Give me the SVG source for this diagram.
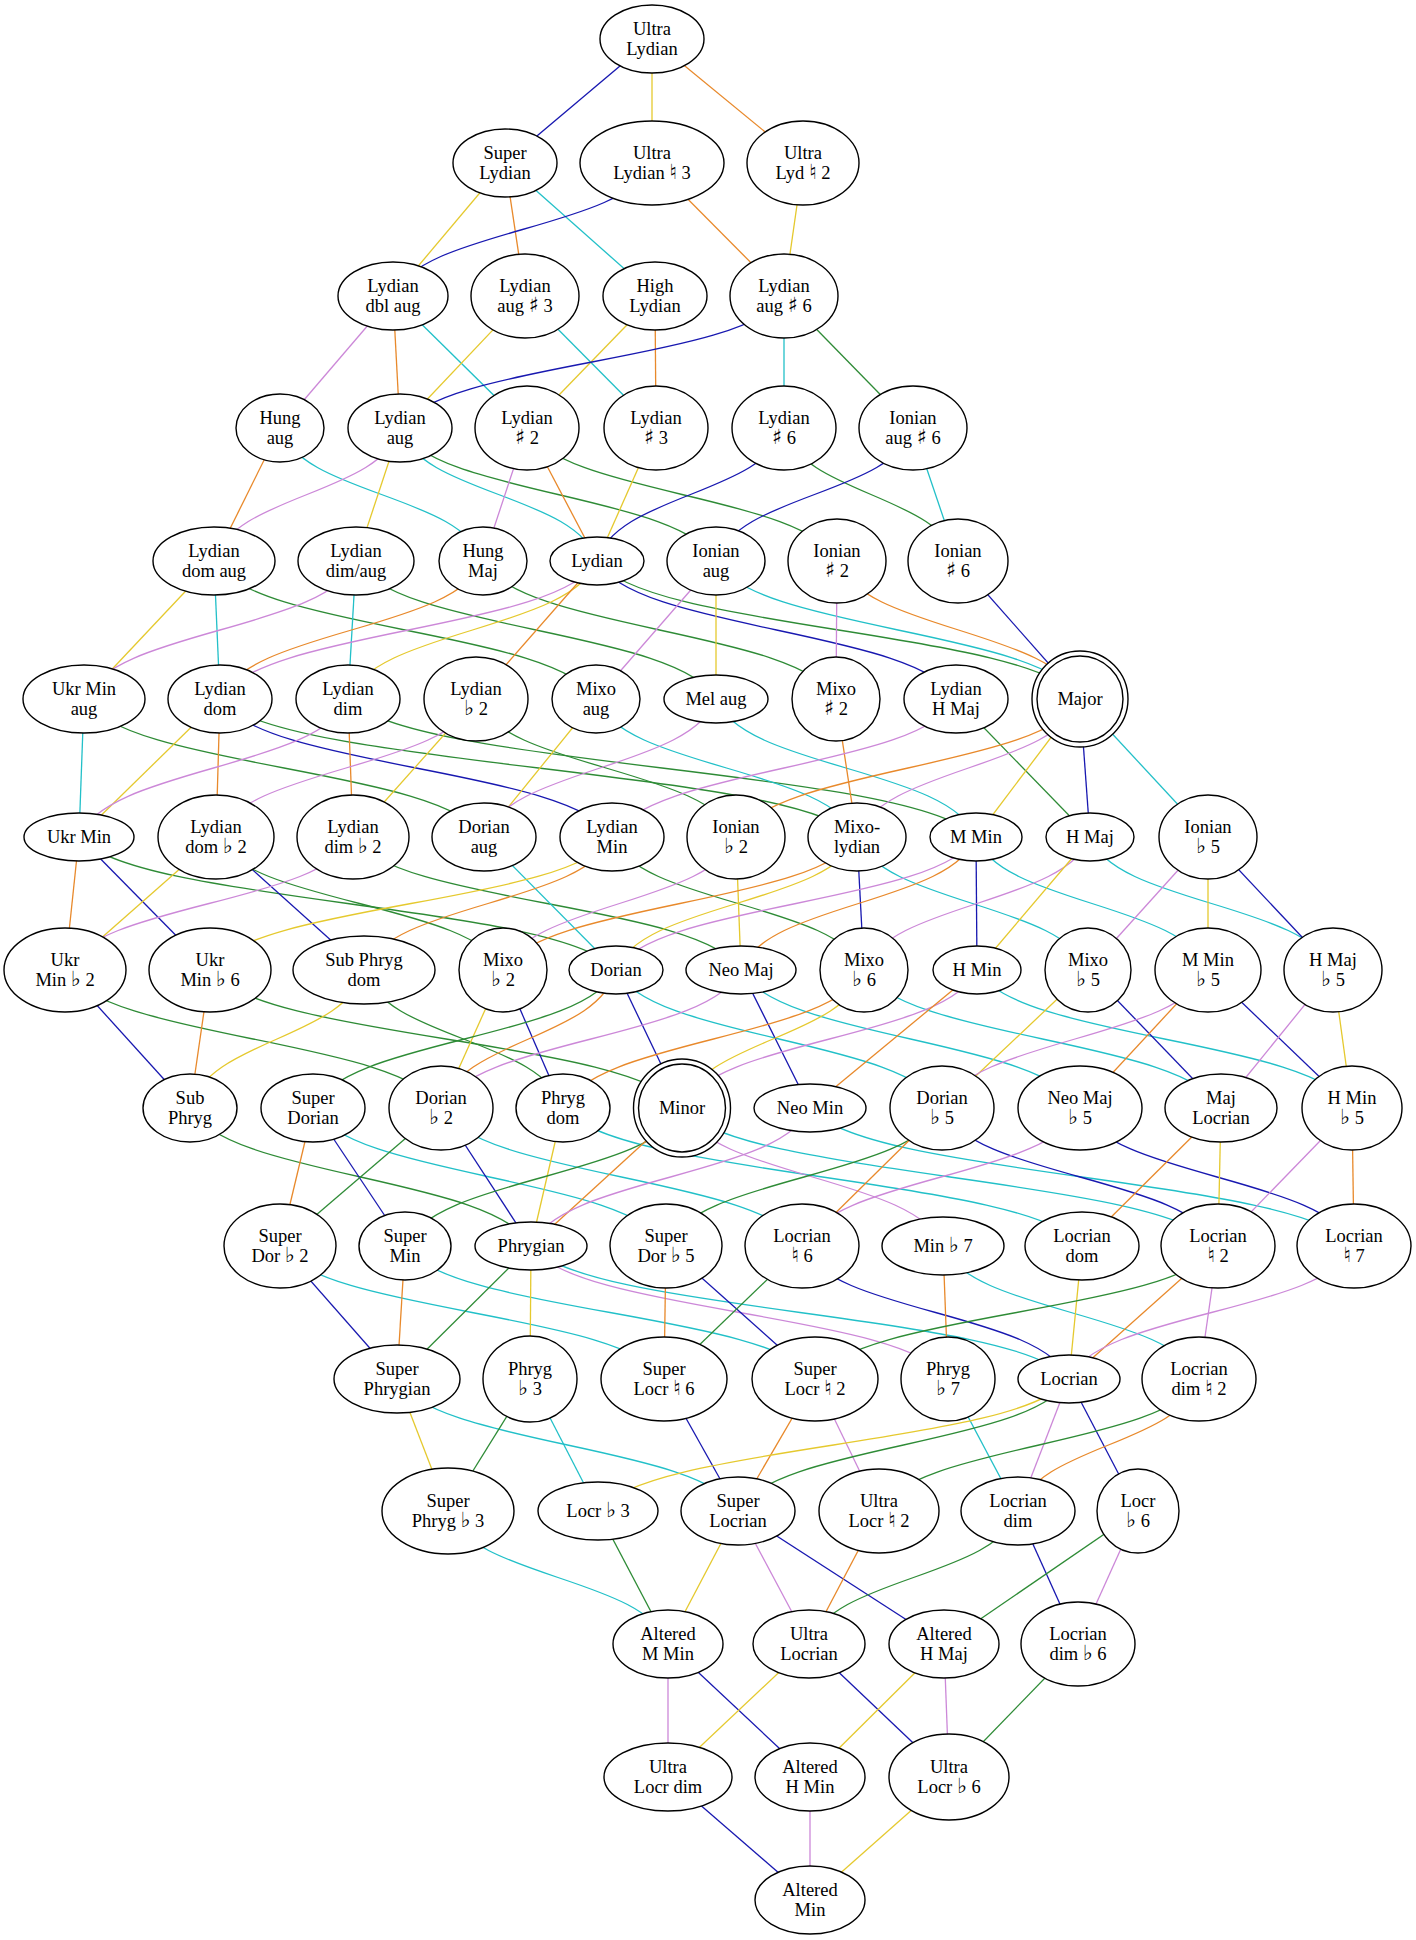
<svg xmlns="http://www.w3.org/2000/svg" width="1416" height="1940" viewBox="0 0 1416 1940">
<style>
.n ellipse{fill:#fff;stroke:#000;stroke-width:1.4}
text{font-family:"Liberation Serif","Times New Roman","DejaVu Serif",serif;font-size:18.5px;text-anchor:middle;fill:#000}
.s{font-family:"DejaVu Sans","DejaVu Serif",sans-serif;font-size:21px}
#edges path{fill:none;stroke-width:1.3}
.c2{stroke:#e8892b}.c3{stroke:#e5c92e}.c4{stroke:#2e8b36}.c5{stroke:#22c0c8}.c6{stroke:#1818b0}.c7{stroke:#cc88d8}
</style>
<rect width="1416" height="1940" fill="#fff"/>
<g id="edges">
<path class="c6" d="M652 39 L505 163"/>
<path class="c3" d="M652 39 L652 163"/>
<path class="c2" d="M652 39 L803 163"/>
<path class="c3" d="M505 163 L393 296"/>
<path class="c2" d="M505 163 L525 296"/>
<path class="c5" d="M505 163 L655 296"/>
<path class="c6" d="M652 163 C626 229.5 419 229.5 393 296"/>
<path class="c2" d="M652 163 L784 296"/>
<path class="c3" d="M803 163 L784 296"/>
<path class="c7" d="M393 296 L280 428"/>
<path class="c2" d="M393 296 L400 428"/>
<path class="c5" d="M393 296 L527 428"/>
<path class="c3" d="M525 296 L400 428"/>
<path class="c5" d="M525 296 L656 428"/>
<path class="c3" d="M655 296 L527 428"/>
<path class="c2" d="M655 296 L656 428"/>
<path class="c6" d="M784 296 C745.6 362 438.4 362 400 428"/>
<path class="c5" d="M784 296 L784 428"/>
<path class="c4" d="M784 296 L913 428"/>
<path class="c2" d="M280 428 L214 561"/>
<path class="c5" d="M280 428 C300.3 494.5 462.7 494.5 483 561"/>
<path class="c7" d="M400 428 C381.4 494.5 232.6 494.5 214 561"/>
<path class="c3" d="M400 428 L356 561"/>
<path class="c5" d="M400 428 C419.7 494.5 577.3 494.5 597 561"/>
<path class="c4" d="M400 428 C431.6 494.5 684.4 494.5 716 561"/>
<path class="c7" d="M527 428 L483 561"/>
<path class="c2" d="M527 428 L597 561"/>
<path class="c4" d="M527 428 C558 494.5 806 494.5 837 561"/>
<path class="c3" d="M656 428 L597 561"/>
<path class="c6" d="M784 428 C765.3 494.5 615.7 494.5 597 561"/>
<path class="c4" d="M784 428 C801.4 494.5 940.6 494.5 958 561"/>
<path class="c6" d="M913 428 C893.3 494.5 735.7 494.5 716 561"/>
<path class="c5" d="M913 428 L958 561"/>
<path class="c3" d="M214 561 L84 699"/>
<path class="c5" d="M214 561 L220 699"/>
<path class="c4" d="M214 561 C252.2 630 557.8 630 596 699"/>
<path class="c7" d="M356 561 C328.8 630 111.2 630 84 699"/>
<path class="c5" d="M356 561 L348 699"/>
<path class="c4" d="M356 561 C392 630 680 630 716 699"/>
<path class="c2" d="M483 561 C456.7 630 246.3 630 220 699"/>
<path class="c4" d="M483 561 C518.3 630 800.7 630 836 699"/>
<path class="c7" d="M597 561 C559.3 630 257.7 630 220 699"/>
<path class="c3" d="M597 561 C572.1 630 372.9 630 348 699"/>
<path class="c2" d="M597 561 L476 699"/>
<path class="c6" d="M597 561 C632.9 630 920.1 630 956 699"/>
<path class="c4" d="M597 561 C645.3 630 1031.7 630 1080 699"/>
<path class="c7" d="M716 561 L596 699"/>
<path class="c3" d="M716 561 L716 699"/>
<path class="c5" d="M716 561 C752.4 630 1043.6 630 1080 699"/>
<path class="c7" d="M837 561 L836 699"/>
<path class="c2" d="M837 561 C861.3 630 1055.7 630 1080 699"/>
<path class="c6" d="M958 561 L1080 699"/>
<path class="c5" d="M84 699 L79 837"/>
<path class="c4" d="M84 699 C124 768 444 768 484 837"/>
<path class="c3" d="M220 699 L79 837"/>
<path class="c2" d="M220 699 L216 837"/>
<path class="c6" d="M220 699 C259.2 768 572.8 768 612 837"/>
<path class="c4" d="M220 699 C283.7 768 793.3 768 857 837"/>
<path class="c7" d="M348 699 C321.1 768 105.9 768 79 837"/>
<path class="c2" d="M348 699 L353 837"/>
<path class="c4" d="M348 699 C410.8 768 913.2 768 976 837"/>
<path class="c7" d="M476 699 C450 768 242 768 216 837"/>
<path class="c3" d="M476 699 L353 837"/>
<path class="c4" d="M476 699 C502 768 710 768 736 837"/>
<path class="c3" d="M596 699 L484 837"/>
<path class="c5" d="M596 699 C622.1 768 830.9 768 857 837"/>
<path class="c7" d="M716 699 C692.8 768 507.2 768 484 837"/>
<path class="c5" d="M716 699 C742 768 950 768 976 837"/>
<path class="c2" d="M836 699 L857 837"/>
<path class="c7" d="M956 699 C921.6 768 646.4 768 612 837"/>
<path class="c4" d="M956 699 L1090 837"/>
<path class="c2" d="M1080 699 C1045.6 768 770.4 768 736 837"/>
<path class="c7" d="M1080 699 C1057.7 768 879.3 768 857 837"/>
<path class="c3" d="M1080 699 L976 837"/>
<path class="c6" d="M1080 699 L1090 837"/>
<path class="c5" d="M1080 699 L1208 837"/>
<path class="c2" d="M79 837 L65 970"/>
<path class="c6" d="M79 837 L210 970"/>
<path class="c4" d="M79 837 C132.7 903.5 562.3 903.5 616 970"/>
<path class="c3" d="M216 837 L65 970"/>
<path class="c6" d="M216 837 L364 970"/>
<path class="c4" d="M216 837 C244.7 903.5 474.3 903.5 503 970"/>
<path class="c7" d="M353 837 C324.2 903.5 93.8 903.5 65 970"/>
<path class="c4" d="M353 837 C391.8 903.5 702.2 903.5 741 970"/>
<path class="c5" d="M484 837 L616 970"/>
<path class="c3" d="M612 837 C571.8 903.5 250.2 903.5 210 970"/>
<path class="c2" d="M612 837 C587.2 903.5 388.8 903.5 364 970"/>
<path class="c4" d="M612 837 C637.2 903.5 838.8 903.5 864 970"/>
<path class="c7" d="M736 837 C712.7 903.5 526.3 903.5 503 970"/>
<path class="c3" d="M736 837 L741 970"/>
<path class="c2" d="M857 837 C821.6 903.5 538.4 903.5 503 970"/>
<path class="c3" d="M857 837 C832.9 903.5 640.1 903.5 616 970"/>
<path class="c6" d="M857 837 L864 970"/>
<path class="c5" d="M857 837 C880.1 903.5 1064.9 903.5 1088 970"/>
<path class="c7" d="M976 837 C940 903.5 652 903.5 616 970"/>
<path class="c2" d="M976 837 C952.5 903.5 764.5 903.5 741 970"/>
<path class="c6" d="M976 837 L977 970"/>
<path class="c5" d="M976 837 C999.2 903.5 1184.8 903.5 1208 970"/>
<path class="c7" d="M1090 837 C1067.4 903.5 886.6 903.5 864 970"/>
<path class="c3" d="M1090 837 L977 970"/>
<path class="c5" d="M1090 837 C1114.3 903.5 1308.7 903.5 1333 970"/>
<path class="c7" d="M1208 837 L1088 970"/>
<path class="c3" d="M1208 837 L1208 970"/>
<path class="c6" d="M1208 837 L1333 970"/>
<path class="c6" d="M65 970 L190 1108"/>
<path class="c4" d="M65 970 C102.6 1039 403.4 1039 441 1108"/>
<path class="c2" d="M210 970 L190 1108"/>
<path class="c4" d="M210 970 C257.2 1039 634.8 1039 682 1108"/>
<path class="c3" d="M364 970 C346.6 1039 207.4 1039 190 1108"/>
<path class="c4" d="M364 970 C383.9 1039 543.1 1039 563 1108"/>
<path class="c3" d="M503 970 L441 1108"/>
<path class="c6" d="M503 970 L563 1108"/>
<path class="c4" d="M616 970 C585.7 1039 343.3 1039 313 1108"/>
<path class="c2" d="M616 970 C598.5 1039 458.5 1039 441 1108"/>
<path class="c6" d="M616 970 L682 1108"/>
<path class="c5" d="M616 970 C648.6 1039 909.4 1039 942 1108"/>
<path class="c7" d="M741 970 C711 1039 471 1039 441 1108"/>
<path class="c6" d="M741 970 L810 1108"/>
<path class="c5" d="M741 970 C774.9 1039 1046.1 1039 1080 1108"/>
<path class="c2" d="M864 970 C833.9 1039 593.1 1039 563 1108"/>
<path class="c3" d="M864 970 C845.8 1039 700.2 1039 682 1108"/>
<path class="c5" d="M864 970 C899.7 1039 1185.3 1039 1221 1108"/>
<path class="c7" d="M977 970 C947.5 1039 711.5 1039 682 1108"/>
<path class="c2" d="M977 970 L810 1108"/>
<path class="c5" d="M977 970 C1014.5 1039 1314.5 1039 1352 1108"/>
<path class="c3" d="M1088 970 L942 1108"/>
<path class="c6" d="M1088 970 L1221 1108"/>
<path class="c7" d="M1208 970 C1181.4 1039 968.6 1039 942 1108"/>
<path class="c2" d="M1208 970 L1080 1108"/>
<path class="c6" d="M1208 970 L1352 1108"/>
<path class="c7" d="M1333 970 L1221 1108"/>
<path class="c3" d="M1333 970 L1352 1108"/>
<path class="c4" d="M190 1108 C224.1 1177 496.9 1177 531 1246"/>
<path class="c2" d="M313 1108 L280 1246"/>
<path class="c6" d="M313 1108 L405 1246"/>
<path class="c5" d="M313 1108 C348.3 1177 630.7 1177 666 1246"/>
<path class="c4" d="M441 1108 L280 1246"/>
<path class="c6" d="M441 1108 L531 1246"/>
<path class="c5" d="M441 1108 C477.1 1177 765.9 1177 802 1246"/>
<path class="c3" d="M563 1108 L531 1246"/>
<path class="c5" d="M563 1108 C614.9 1177 1030.1 1177 1082 1246"/>
<path class="c4" d="M682 1108 C654.3 1177 432.7 1177 405 1246"/>
<path class="c2" d="M682 1108 L531 1246"/>
<path class="c7" d="M682 1108 C708.1 1177 916.9 1177 943 1246"/>
<path class="c5" d="M682 1108 C735.6 1177 1164.4 1177 1218 1246"/>
<path class="c7" d="M810 1108 C782.1 1177 558.9 1177 531 1246"/>
<path class="c5" d="M810 1108 C864.4 1177 1299.6 1177 1354 1246"/>
<path class="c4" d="M942 1108 C914.4 1177 693.6 1177 666 1246"/>
<path class="c2" d="M942 1108 L802 1246"/>
<path class="c6" d="M942 1108 C969.6 1177 1190.4 1177 1218 1246"/>
<path class="c7" d="M1080 1108 C1052.2 1177 829.8 1177 802 1246"/>
<path class="c6" d="M1080 1108 C1107.4 1177 1326.6 1177 1354 1246"/>
<path class="c2" d="M1221 1108 L1082 1246"/>
<path class="c3" d="M1221 1108 L1218 1246"/>
<path class="c7" d="M1352 1108 L1218 1246"/>
<path class="c2" d="M1352 1108 L1354 1246"/>
<path class="c6" d="M280 1246 L397 1379"/>
<path class="c5" d="M280 1246 C318.4 1312.5 625.6 1312.5 664 1379"/>
<path class="c2" d="M405 1246 L397 1379"/>
<path class="c5" d="M405 1246 C446 1312.5 774 1312.5 815 1379"/>
<path class="c4" d="M531 1246 L397 1379"/>
<path class="c3" d="M531 1246 L530 1379"/>
<path class="c7" d="M531 1246 C572.7 1312.5 906.3 1312.5 948 1379"/>
<path class="c5" d="M531 1246 C584.8 1312.5 1015.2 1312.5 1069 1379"/>
<path class="c2" d="M666 1246 L664 1379"/>
<path class="c6" d="M666 1246 L815 1379"/>
<path class="c4" d="M802 1246 L664 1379"/>
<path class="c6" d="M802 1246 C828.7 1312.5 1042.3 1312.5 1069 1379"/>
<path class="c2" d="M943 1246 L948 1379"/>
<path class="c5" d="M943 1246 C968.6 1312.5 1173.4 1312.5 1199 1379"/>
<path class="c3" d="M1082 1246 L1069 1379"/>
<path class="c4" d="M1218 1246 C1177.7 1312.5 855.3 1312.5 815 1379"/>
<path class="c2" d="M1218 1246 L1069 1379"/>
<path class="c7" d="M1218 1246 L1199 1379"/>
<path class="c7" d="M1354 1246 C1325.5 1312.5 1097.5 1312.5 1069 1379"/>
<path class="c3" d="M397 1379 L448 1511"/>
<path class="c5" d="M397 1379 C431.1 1445 703.9 1445 738 1511"/>
<path class="c4" d="M530 1379 L448 1511"/>
<path class="c5" d="M530 1379 L598 1511"/>
<path class="c6" d="M664 1379 L738 1511"/>
<path class="c2" d="M815 1379 L738 1511"/>
<path class="c7" d="M815 1379 L879 1511"/>
<path class="c5" d="M948 1379 L1018 1511"/>
<path class="c3" d="M1069 1379 C1021.9 1445 645.1 1445 598 1511"/>
<path class="c4" d="M1069 1379 C1035.9 1445 771.1 1445 738 1511"/>
<path class="c7" d="M1069 1379 L1018 1511"/>
<path class="c6" d="M1069 1379 L1138 1511"/>
<path class="c4" d="M1199 1379 C1167 1445 911 1445 879 1511"/>
<path class="c2" d="M1199 1379 C1180.9 1445 1036.1 1445 1018 1511"/>
<path class="c5" d="M448 1511 C470 1577.5 646 1577.5 668 1644"/>
<path class="c4" d="M598 1511 L668 1644"/>
<path class="c3" d="M738 1511 L668 1644"/>
<path class="c7" d="M738 1511 L809 1644"/>
<path class="c6" d="M738 1511 L944 1644"/>
<path class="c2" d="M879 1511 L809 1644"/>
<path class="c4" d="M1018 1511 C997.1 1577.5 829.9 1577.5 809 1644"/>
<path class="c6" d="M1018 1511 L1078 1644"/>
<path class="c4" d="M1138 1511 L944 1644"/>
<path class="c7" d="M1138 1511 L1078 1644"/>
<path class="c7" d="M668 1644 L668 1777"/>
<path class="c6" d="M668 1644 L810 1777"/>
<path class="c3" d="M809 1644 L668 1777"/>
<path class="c6" d="M809 1644 L949 1777"/>
<path class="c3" d="M944 1644 L810 1777"/>
<path class="c7" d="M944 1644 L949 1777"/>
<path class="c4" d="M1078 1644 L949 1777"/>
<path class="c6" d="M668 1777 L810 1900"/>
<path class="c7" d="M810 1777 L810 1900"/>
<path class="c3" d="M949 1777 L810 1900"/>
</g>
<g id="UL" class="n"><ellipse cx="652" cy="39" rx="52" ry="34"/><text x="652" y="35"><tspan x="652">Ultra</tspan><tspan x="652" dy="19.5">Lydian</tspan></text></g>
<g id="SL" class="n"><ellipse cx="505" cy="163" rx="52" ry="34"/><text x="505" y="159"><tspan x="505">Super</tspan><tspan x="505" dy="19.5">Lydian</tspan></text></g>
<g id="UL3" class="n"><ellipse cx="652" cy="163" rx="72" ry="42"/><text x="652" y="159"><tspan x="652">Ultra</tspan><tspan x="652" dy="19.5">Lydian <tspan class="s">♮</tspan> 3</tspan></text></g>
<g id="UL2" class="n"><ellipse cx="803" cy="163" rx="56" ry="42"/><text x="803" y="159"><tspan x="803">Ultra</tspan><tspan x="803" dy="19.5">Lyd <tspan class="s">♮</tspan> 2</tspan></text></g>
<g id="LDA" class="n"><ellipse cx="393" cy="296" rx="55" ry="34"/><text x="393" y="292"><tspan x="393">Lydian</tspan><tspan x="393" dy="19.5">dbl aug</tspan></text></g>
<g id="LA3" class="n"><ellipse cx="525" cy="296" rx="54" ry="42"/><text x="525" y="292"><tspan x="525">Lydian</tspan><tspan x="525" dy="19.5">aug <tspan class="s">♯</tspan> 3</tspan></text></g>
<g id="HL" class="n"><ellipse cx="655" cy="296" rx="52" ry="34"/><text x="655" y="292"><tspan x="655">High</tspan><tspan x="655" dy="19.5">Lydian</tspan></text></g>
<g id="LA6" class="n"><ellipse cx="784" cy="296" rx="54" ry="42"/><text x="784" y="292"><tspan x="784">Lydian</tspan><tspan x="784" dy="19.5">aug <tspan class="s">♯</tspan> 6</tspan></text></g>
<g id="HA" class="n"><ellipse cx="280" cy="428" rx="44" ry="34"/><text x="280" y="424"><tspan x="280">Hung</tspan><tspan x="280" dy="19.5">aug</tspan></text></g>
<g id="LAug" class="n"><ellipse cx="400" cy="428" rx="52" ry="34"/><text x="400" y="424"><tspan x="400">Lydian</tspan><tspan x="400" dy="19.5">aug</tspan></text></g>
<g id="L2" class="n"><ellipse cx="527" cy="428" rx="52" ry="42"/><text x="527" y="424"><tspan x="527">Lydian</tspan><tspan x="527" dy="19.5"><tspan class="s">♯</tspan> 2</tspan></text></g>
<g id="L3" class="n"><ellipse cx="656" cy="428" rx="52" ry="42"/><text x="656" y="424"><tspan x="656">Lydian</tspan><tspan x="656" dy="19.5"><tspan class="s">♯</tspan> 3</tspan></text></g>
<g id="L6" class="n"><ellipse cx="784" cy="428" rx="52" ry="42"/><text x="784" y="424"><tspan x="784">Lydian</tspan><tspan x="784" dy="19.5"><tspan class="s">♯</tspan> 6</tspan></text></g>
<g id="IA6" class="n"><ellipse cx="913" cy="428" rx="54" ry="42"/><text x="913" y="424"><tspan x="913">Ionian</tspan><tspan x="913" dy="19.5">aug <tspan class="s">♯</tspan> 6</tspan></text></g>
<g id="LDAug" class="n"><ellipse cx="214" cy="561" rx="61" ry="34"/><text x="214" y="557"><tspan x="214">Lydian</tspan><tspan x="214" dy="19.5">dom aug</tspan></text></g>
<g id="LDimAug" class="n"><ellipse cx="356" cy="561" rx="58" ry="34"/><text x="356" y="557"><tspan x="356">Lydian</tspan><tspan x="356" dy="19.5">dim/aug</tspan></text></g>
<g id="HM" class="n"><ellipse cx="483" cy="561" rx="44" ry="34"/><text x="483" y="557"><tspan x="483">Hung</tspan><tspan x="483" dy="19.5">Maj</tspan></text></g>
<g id="Lyd" class="n"><ellipse cx="597" cy="561" rx="47" ry="24"/><text x="597" y="567">Lydian</text></g>
<g id="IAug" class="n"><ellipse cx="716" cy="561" rx="49" ry="34"/><text x="716" y="557"><tspan x="716">Ionian</tspan><tspan x="716" dy="19.5">aug</tspan></text></g>
<g id="I2" class="n"><ellipse cx="837" cy="561" rx="49" ry="42"/><text x="837" y="557"><tspan x="837">Ionian</tspan><tspan x="837" dy="19.5"><tspan class="s">♯</tspan> 2</tspan></text></g>
<g id="I6" class="n"><ellipse cx="958" cy="561" rx="50" ry="42"/><text x="958" y="557"><tspan x="958">Ionian</tspan><tspan x="958" dy="19.5"><tspan class="s">♯</tspan> 6</tspan></text></g>
<g id="UMA" class="n"><ellipse cx="84" cy="699" rx="61" ry="34"/><text x="84" y="695"><tspan x="84">Ukr Min</tspan><tspan x="84" dy="19.5">aug</tspan></text></g>
<g id="LD" class="n"><ellipse cx="220" cy="699" rx="52" ry="34"/><text x="220" y="695"><tspan x="220">Lydian</tspan><tspan x="220" dy="19.5">dom</tspan></text></g>
<g id="LDim" class="n"><ellipse cx="348" cy="699" rx="52" ry="34"/><text x="348" y="695"><tspan x="348">Lydian</tspan><tspan x="348" dy="19.5">dim</tspan></text></g>
<g id="LF2" class="n"><ellipse cx="476" cy="699" rx="52" ry="42"/><text x="476" y="695"><tspan x="476">Lydian</tspan><tspan x="476" dy="19.5"><tspan class="s">♭</tspan> 2</tspan></text></g>
<g id="MA" class="n"><ellipse cx="596" cy="699" rx="44" ry="34"/><text x="596" y="695"><tspan x="596">Mixo</tspan><tspan x="596" dy="19.5">aug</tspan></text></g>
<g id="MelA" class="n"><ellipse cx="716" cy="699" rx="52" ry="24"/><text x="716" y="705">Mel aug</text></g>
<g id="M2" class="n"><ellipse cx="836" cy="699" rx="44" ry="42"/><text x="836" y="695"><tspan x="836">Mixo</tspan><tspan x="836" dy="19.5"><tspan class="s">♯</tspan> 2</tspan></text></g>
<g id="LHM" class="n"><ellipse cx="956" cy="699" rx="52" ry="34"/><text x="956" y="695"><tspan x="956">Lydian</tspan><tspan x="956" dy="19.5">H Maj</tspan></text></g>
<g id="Maj" class="n"><ellipse cx="1080" cy="699" rx="48" ry="48"/><ellipse cx="1080" cy="699" rx="43" ry="43"/><text x="1080" y="705">Major</text></g>
<g id="UM" class="n"><ellipse cx="79" cy="837" rx="55" ry="24"/><text x="79" y="843">Ukr Min</text></g>
<g id="LDF2" class="n"><ellipse cx="216" cy="837" rx="58" ry="42"/><text x="216" y="833"><tspan x="216">Lydian</tspan><tspan x="216" dy="19.5">dom <tspan class="s">♭</tspan> 2</tspan></text></g>
<g id="LDimF2" class="n"><ellipse cx="353" cy="837" rx="56" ry="42"/><text x="353" y="833"><tspan x="353">Lydian</tspan><tspan x="353" dy="19.5">dim <tspan class="s">♭</tspan> 2</tspan></text></g>
<g id="DA" class="n"><ellipse cx="484" cy="837" rx="52" ry="34"/><text x="484" y="833"><tspan x="484">Dorian</tspan><tspan x="484" dy="19.5">aug</tspan></text></g>
<g id="LMin" class="n"><ellipse cx="612" cy="837" rx="52" ry="34"/><text x="612" y="833"><tspan x="612">Lydian</tspan><tspan x="612" dy="19.5">Min</tspan></text></g>
<g id="IF2" class="n"><ellipse cx="736" cy="837" rx="49" ry="42"/><text x="736" y="833"><tspan x="736">Ionian</tspan><tspan x="736" dy="19.5"><tspan class="s">♭</tspan> 2</tspan></text></g>
<g id="Mixo" class="n"><ellipse cx="857" cy="837" rx="49" ry="34"/><text x="857" y="833"><tspan x="857">Mixo-</tspan><tspan x="857" dy="19.5">lydian</tspan></text></g>
<g id="MMin" class="n"><ellipse cx="976" cy="837" rx="46" ry="24"/><text x="976" y="843">M Min</text></g>
<g id="HMaj" class="n"><ellipse cx="1090" cy="837" rx="44" ry="24"/><text x="1090" y="843">H Maj</text></g>
<g id="IF5" class="n"><ellipse cx="1208" cy="837" rx="49" ry="42"/><text x="1208" y="833"><tspan x="1208">Ionian</tspan><tspan x="1208" dy="19.5"><tspan class="s">♭</tspan> 5</tspan></text></g>
<g id="UMF2" class="n"><ellipse cx="65" cy="970" rx="61" ry="42"/><text x="65" y="966"><tspan x="65">Ukr</tspan><tspan x="65" dy="19.5">Min <tspan class="s">♭</tspan> 2</tspan></text></g>
<g id="UMF6" class="n"><ellipse cx="210" cy="970" rx="61" ry="42"/><text x="210" y="966"><tspan x="210">Ukr</tspan><tspan x="210" dy="19.5">Min <tspan class="s">♭</tspan> 6</tspan></text></g>
<g id="SPD" class="n"><ellipse cx="364" cy="970" rx="71" ry="34"/><text x="364" y="966"><tspan x="364">Sub Phryg</tspan><tspan x="364" dy="19.5">dom</tspan></text></g>
<g id="MxF2" class="n"><ellipse cx="503" cy="970" rx="44" ry="42"/><text x="503" y="966"><tspan x="503">Mixo</tspan><tspan x="503" dy="19.5"><tspan class="s">♭</tspan> 2</tspan></text></g>
<g id="Dor" class="n"><ellipse cx="616" cy="970" rx="47" ry="24"/><text x="616" y="976">Dorian</text></g>
<g id="NMaj" class="n"><ellipse cx="741" cy="970" rx="55" ry="24"/><text x="741" y="976">Neo Maj</text></g>
<g id="MxF6" class="n"><ellipse cx="864" cy="970" rx="44" ry="42"/><text x="864" y="966"><tspan x="864">Mixo</tspan><tspan x="864" dy="19.5"><tspan class="s">♭</tspan> 6</tspan></text></g>
<g id="HMin" class="n"><ellipse cx="977" cy="970" rx="44" ry="24"/><text x="977" y="976">H Min</text></g>
<g id="MxF5" class="n"><ellipse cx="1088" cy="970" rx="43" ry="42"/><text x="1088" y="966"><tspan x="1088">Mixo</tspan><tspan x="1088" dy="19.5"><tspan class="s">♭</tspan> 5</tspan></text></g>
<g id="MMinF5" class="n"><ellipse cx="1208" cy="970" rx="53" ry="42"/><text x="1208" y="966"><tspan x="1208">M Min</tspan><tspan x="1208" dy="19.5"><tspan class="s">♭</tspan> 5</tspan></text></g>
<g id="HMajF5" class="n"><ellipse cx="1333" cy="970" rx="49" ry="42"/><text x="1333" y="966"><tspan x="1333">H Maj</tspan><tspan x="1333" dy="19.5"><tspan class="s">♭</tspan> 5</tspan></text></g>
<g id="SP" class="n"><ellipse cx="190" cy="1108" rx="47" ry="34"/><text x="190" y="1104"><tspan x="190">Sub</tspan><tspan x="190" dy="19.5">Phryg</tspan></text></g>
<g id="SD" class="n"><ellipse cx="313" cy="1108" rx="52" ry="34"/><text x="313" y="1104"><tspan x="313">Super</tspan><tspan x="313" dy="19.5">Dorian</tspan></text></g>
<g id="DF2" class="n"><ellipse cx="441" cy="1108" rx="52" ry="42"/><text x="441" y="1104"><tspan x="441">Dorian</tspan><tspan x="441" dy="19.5"><tspan class="s">♭</tspan> 2</tspan></text></g>
<g id="PD" class="n"><ellipse cx="563" cy="1108" rx="47" ry="34"/><text x="563" y="1104"><tspan x="563">Phryg</tspan><tspan x="563" dy="19.5">dom</tspan></text></g>
<g id="Min" class="n"><ellipse cx="682" cy="1108" rx="48.5" ry="49"/><ellipse cx="682" cy="1108" rx="43.5" ry="44"/><text x="682" y="1114">Minor</text></g>
<g id="NMin" class="n"><ellipse cx="810" cy="1108" rx="56" ry="24"/><text x="810" y="1114">Neo Min</text></g>
<g id="DF5" class="n"><ellipse cx="942" cy="1108" rx="52" ry="42"/><text x="942" y="1104"><tspan x="942">Dorian</tspan><tspan x="942" dy="19.5"><tspan class="s">♭</tspan> 5</tspan></text></g>
<g id="NMajF5" class="n"><ellipse cx="1080" cy="1108" rx="62" ry="42"/><text x="1080" y="1104"><tspan x="1080">Neo Maj</tspan><tspan x="1080" dy="19.5"><tspan class="s">♭</tspan> 5</tspan></text></g>
<g id="MajLoc" class="n"><ellipse cx="1221" cy="1108" rx="56" ry="34"/><text x="1221" y="1104"><tspan x="1221">Maj</tspan><tspan x="1221" dy="19.5">Locrian</tspan></text></g>
<g id="HMinF5" class="n"><ellipse cx="1352" cy="1108" rx="50" ry="42"/><text x="1352" y="1104"><tspan x="1352">H Min</tspan><tspan x="1352" dy="19.5"><tspan class="s">♭</tspan> 5</tspan></text></g>
<g id="SDF2" class="n"><ellipse cx="280" cy="1246" rx="56" ry="42"/><text x="280" y="1242"><tspan x="280">Super</tspan><tspan x="280" dy="19.5">Dor <tspan class="s">♭</tspan> 2</tspan></text></g>
<g id="SMin" class="n"><ellipse cx="405" cy="1246" rx="46" ry="34"/><text x="405" y="1242"><tspan x="405">Super</tspan><tspan x="405" dy="19.5">Min</tspan></text></g>
<g id="Phr" class="n"><ellipse cx="531" cy="1246" rx="56" ry="24"/><text x="531" y="1252">Phrygian</text></g>
<g id="SDF5" class="n"><ellipse cx="666" cy="1246" rx="56" ry="42"/><text x="666" y="1242"><tspan x="666">Super</tspan><tspan x="666" dy="19.5">Dor <tspan class="s">♭</tspan> 5</tspan></text></g>
<g id="LN6" class="n"><ellipse cx="802" cy="1246" rx="57" ry="42"/><text x="802" y="1242"><tspan x="802">Locrian</tspan><tspan x="802" dy="19.5"><tspan class="s">♮</tspan> 6</tspan></text></g>
<g id="MinF7" class="n"><ellipse cx="943" cy="1246" rx="61" ry="29"/><text x="943" y="1252">Min <tspan class="s">♭</tspan> 7</text></g>
<g id="LDom" class="n"><ellipse cx="1082" cy="1246" rx="57" ry="34"/><text x="1082" y="1242"><tspan x="1082">Locrian</tspan><tspan x="1082" dy="19.5">dom</tspan></text></g>
<g id="LN2" class="n"><ellipse cx="1218" cy="1246" rx="57" ry="42"/><text x="1218" y="1242"><tspan x="1218">Locrian</tspan><tspan x="1218" dy="19.5"><tspan class="s">♮</tspan> 2</tspan></text></g>
<g id="LN7" class="n"><ellipse cx="1354" cy="1246" rx="57" ry="42"/><text x="1354" y="1242"><tspan x="1354">Locrian</tspan><tspan x="1354" dy="19.5"><tspan class="s">♮</tspan> 7</tspan></text></g>
<g id="SPhr" class="n"><ellipse cx="397" cy="1379" rx="63" ry="34"/><text x="397" y="1375"><tspan x="397">Super</tspan><tspan x="397" dy="19.5">Phrygian</tspan></text></g>
<g id="PF3" class="n"><ellipse cx="530" cy="1379" rx="47" ry="43"/><text x="530" y="1375"><tspan x="530">Phryg</tspan><tspan x="530" dy="19.5"><tspan class="s">♭</tspan> 3</tspan></text></g>
<g id="SLN6" class="n"><ellipse cx="664" cy="1379" rx="63" ry="42"/><text x="664" y="1375"><tspan x="664">Super</tspan><tspan x="664" dy="19.5">Locr <tspan class="s">♮</tspan> 6</tspan></text></g>
<g id="SLN2" class="n"><ellipse cx="815" cy="1379" rx="63" ry="42"/><text x="815" y="1375"><tspan x="815">Super</tspan><tspan x="815" dy="19.5">Locr <tspan class="s">♮</tspan> 2</tspan></text></g>
<g id="PF7" class="n"><ellipse cx="948" cy="1379" rx="47" ry="42"/><text x="948" y="1375"><tspan x="948">Phryg</tspan><tspan x="948" dy="19.5"><tspan class="s">♭</tspan> 7</tspan></text></g>
<g id="Loc" class="n"><ellipse cx="1069" cy="1379" rx="51" ry="24"/><text x="1069" y="1385">Locrian</text></g>
<g id="LDN2" class="n"><ellipse cx="1199" cy="1379" rx="57" ry="42"/><text x="1199" y="1375"><tspan x="1199">Locrian</tspan><tspan x="1199" dy="19.5">dim <tspan class="s">♮</tspan> 2</tspan></text></g>
<g id="SPF3" class="n"><ellipse cx="448" cy="1511" rx="66" ry="43"/><text x="448" y="1507"><tspan x="448">Super</tspan><tspan x="448" dy="19.5">Phryg <tspan class="s">♭</tspan> 3</tspan></text></g>
<g id="LF3" class="n"><ellipse cx="598" cy="1511" rx="60" ry="29"/><text x="598" y="1517">Locr <tspan class="s">♭</tspan> 3</text></g>
<g id="SLoc" class="n"><ellipse cx="738" cy="1511" rx="57" ry="34"/><text x="738" y="1507"><tspan x="738">Super</tspan><tspan x="738" dy="19.5">Locrian</tspan></text></g>
<g id="ULN2" class="n"><ellipse cx="879" cy="1511" rx="60" ry="42"/><text x="879" y="1507"><tspan x="879">Ultra</tspan><tspan x="879" dy="19.5">Locr <tspan class="s">♮</tspan> 2</tspan></text></g>
<g id="LDim2" class="n"><ellipse cx="1018" cy="1511" rx="57" ry="34"/><text x="1018" y="1507"><tspan x="1018">Locrian</tspan><tspan x="1018" dy="19.5">dim</tspan></text></g>
<g id="LF6" class="n"><ellipse cx="1138" cy="1511" rx="41" ry="42"/><text x="1138" y="1507"><tspan x="1138">Locr</tspan><tspan x="1138" dy="19.5"><tspan class="s">♭</tspan> 6</tspan></text></g>
<g id="AMM" class="n"><ellipse cx="668" cy="1644" rx="55" ry="34"/><text x="668" y="1640"><tspan x="668">Altered</tspan><tspan x="668" dy="19.5">M Min</tspan></text></g>
<g id="ULoc" class="n"><ellipse cx="809" cy="1644" rx="56" ry="34"/><text x="809" y="1640"><tspan x="809">Ultra</tspan><tspan x="809" dy="19.5">Locrian</tspan></text></g>
<g id="AHM" class="n"><ellipse cx="944" cy="1644" rx="55" ry="34"/><text x="944" y="1640"><tspan x="944">Altered</tspan><tspan x="944" dy="19.5">H Maj</tspan></text></g>
<g id="LDF6" class="n"><ellipse cx="1078" cy="1644" rx="57" ry="42"/><text x="1078" y="1640"><tspan x="1078">Locrian</tspan><tspan x="1078" dy="19.5">dim <tspan class="s">♭</tspan> 6</tspan></text></g>
<g id="ULD" class="n"><ellipse cx="668" cy="1777" rx="64" ry="34"/><text x="668" y="1773"><tspan x="668">Ultra</tspan><tspan x="668" dy="19.5">Locr dim</tspan></text></g>
<g id="AHMin" class="n"><ellipse cx="810" cy="1777" rx="55" ry="34"/><text x="810" y="1773"><tspan x="810">Altered</tspan><tspan x="810" dy="19.5">H Min</tspan></text></g>
<g id="ULF6" class="n"><ellipse cx="949" cy="1777" rx="60" ry="43"/><text x="949" y="1773"><tspan x="949">Ultra</tspan><tspan x="949" dy="19.5">Locr <tspan class="s">♭</tspan> 6</tspan></text></g>
<g id="AMin" class="n"><ellipse cx="810" cy="1900" rx="55" ry="34"/><text x="810" y="1896"><tspan x="810">Altered</tspan><tspan x="810" dy="19.5">Min</tspan></text></g>
</svg>
